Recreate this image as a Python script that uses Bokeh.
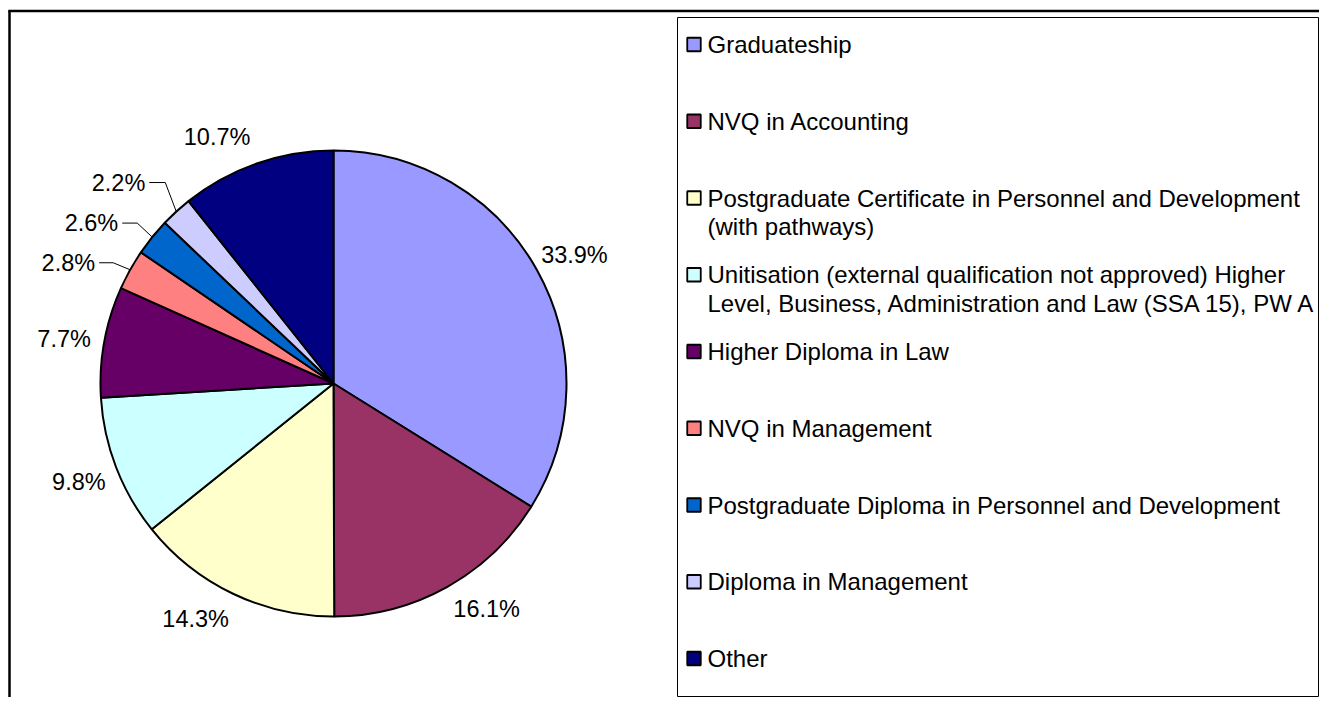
import math
from bokeh.plotting import figure
from bokeh.models import Range1d
from bokeh.core.properties import value
from bokeh.embed import file_html
from bokeh.resources import INLINE

# ---------------- data ----------------
categories = [
    "Graduateship",
    "NVQ in Accounting",
    "Postgraduate Certificate in Personnel and Development\n(with pathways)",
    "Unitisation (external qualification not approved)  Higher\nLevel, Business, Administration and Law (SSA 15), PW A",
    "Higher Diploma in Law",
    "NVQ in Management",
    "Postgraduate Diploma in Personnel and Development",
    "Diploma in Management",
    "Other",
]
shares = [33.9, 16.1, 14.3, 9.8, 7.7, 2.8, 2.6, 2.2, 10.7]
colors = ["#9999FF", "#993366", "#FFFFCC", "#CCFFFF", "#660066",
          "#FF8080", "#0066CC", "#CCCCFF", "#000080"]

# ---------------- layout (image pixels, y downward) ----------------
W, H = 1319, 697
FONT = value("Liberation Sans")
LABEL_FS = "23.5px"
LEGEND_FS = "24px"
CX, CY, R = 333, 383, 233
LABEL_R = 273
# small angular nudges (degrees) of the outside labels, as placed in the original
label_nudge = {0: 1.0, 1: -5.0, 2: 4.8, 4: -1.0, 8: -6.0}
# callout leaders for the thin slices: index -> (elbow dx, elbow dy, horizontal length)
callouts = {5: (-17, -7, 14), 6: (-15, -14, 15), 7: (-11, -29, 16)}


def Y(py):
    return -py


p = figure(width=W, height=H, x_range=Range1d(0, W), y_range=Range1d(-H, 0),
           output_backend="svg", toolbar_location=None,
           x_axis_type=None, y_axis_type=None, min_border=0)
p.grid.visible = False
p.outline_line_color = None
p.background_fill_color = "white"
p.border_fill_color = "white"

# outer frame (left and top edges visible)
p.line(x=[9, 9], y=[Y(10.5), Y(720)], line_color="black", line_width=2.5)
p.line(x=[7.75, 1340], y=[Y(10.5), Y(10.5)], line_color="black", line_width=2.5)

# ---------------- pie ----------------
total = sum(shares)
starts, ends, mids = [], [], []
cum = 0.0
for v in shares:
    f0 = cum / total
    cum += v
    f1 = cum / total
    starts.append(math.pi / 2 - 2 * math.pi * f0)
    ends.append(math.pi / 2 - 2 * math.pi * f1)
    mids.append(2 * math.pi * (f0 + f1) / 2)  # clockwise from top

p.wedge(x=[CX] * len(shares), y=[Y(CY)] * len(shares), radius=R,
        start_angle=starts, end_angle=ends, direction="clock",
        fill_color=colors, line_color="black", line_width=2)

# labels
lx, ly, ltxt = [], [], []
rx, ry, rtxt = [], [], []
for i, v in enumerate(shares):
    t = mids[i]
    txt = f"{v:.1f}%"
    if i in callouts:
        dx, dy, ln = callouts[i]
        sx = CX + R * math.sin(t)
        sy = CY - R * math.cos(t)
        ex, ey = sx + dx, sy + dy
        hx = ex - ln
        p.line(x=[sx, ex, hx], y=[Y(sy), Y(ey), Y(ey)], line_color="black", line_width=1)
        rx.append(hx - 4)
        ry.append(Y(ey))
        rtxt.append(txt)
    else:
        ta = t + math.radians(label_nudge.get(i, 0.0))
        lx.append(CX + LABEL_R * math.sin(ta))
        ly.append(Y(CY - LABEL_R * math.cos(ta)))
        ltxt.append(txt)

p.text(x=lx, y=ly, text=ltxt, text_font=FONT, text_font_size=LABEL_FS,
       text_align="center", text_baseline="middle", text_color="black")
p.text(x=rx, y=ry, text=rtxt, text_font=FONT, text_font_size=LABEL_FS,
       text_align="right", text_baseline="middle", text_color="black")

# ---------------- legend ----------------
p.quad(left=[677], right=[1318], top=[Y(17)], bottom=[Y(696)],
       fill_color="white", line_color="black", line_width=1)

LEG_Y0, LEG_STEP, LINE_H = 44, 76.75, 28.5
mx, my = [], []
tx, ty, tt = [], [], []
for i, cat in enumerate(categories):
    y0 = LEG_Y0 + i * LEG_STEP
    mx.append(693.5)
    my.append(Y(y0))
    for k, line in enumerate(cat.split("\n")):
        tx.append(707)
        ty.append(Y(y0 + k * LINE_H))
        tt.append(line)

p.rect(x=mx, y=my, width=13.5, height=13.5, fill_color=colors,
       line_color="black", line_width=1.8)
p.text(x=tx, y=ty, text=tt, text_font=FONT, text_font_size=LEGEND_FS,
       text_align="left", text_baseline="middle", text_color="black")

open("out.html", "w").write(file_html(p, INLINE))
